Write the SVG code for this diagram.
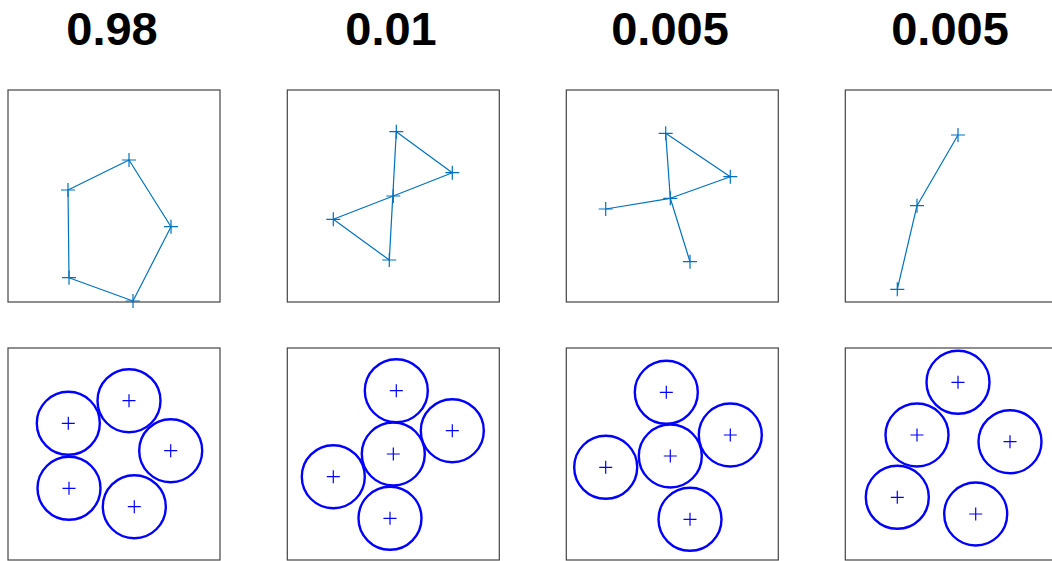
<svg xmlns="http://www.w3.org/2000/svg" xmlns:xlink="http://www.w3.org/1999/xlink" width="1052" height="561" viewBox="0 0 1052 561">
<style>
.title{font-family:"Liberation Sans",Arial,sans-serif;font-weight:bold;font-size:47px;fill:#000;text-anchor:middle}
.box{fill:#fff;stroke:#444;stroke-width:1.2}
.poly{fill:none;stroke:#0072BD;stroke-width:1.2;stroke-linejoin:round}
.pm{fill:none;stroke:#0072BD;stroke-width:1.2}
.circ{fill:none;stroke:#0000FF;stroke-width:2.4}
.cm{fill:none;stroke:#0000FF;stroke-width:1.2}
</style>
<defs>
<path id="p" d="M-7,0H7M0,-7V7"/>
<path id="q" d="M-6.5,0H6.5M0,-6.5V6.5"/>
</defs>
<rect width="1052" height="561" fill="#fff"/>
<g id="titles">
<text class="title" x="112" y="45">0.98</text>
<text class="title" x="391" y="45">0.01</text>
<text class="title" x="670" y="45">0.005</text>
<text class="title" x="950" y="45">0.005</text>
</g>
<g id="panel1-top">
<rect class="box" x="8" y="90" width="212" height="212"/>
<polygon class="poly" points="129,160 68,190 69,277.7 133,301 171,226.7"/>
<g class="pm"><use xlink:href="#p" x="129" y="160"/><use xlink:href="#p" x="68" y="190"/><use xlink:href="#p" x="69" y="277.7"/><use xlink:href="#p" x="133" y="301"/><use xlink:href="#p" x="171" y="226.7"/></g>
</g>
<g id="panel2-top">
<rect class="box" x="287.3" y="90" width="212" height="212"/>
<polygon class="poly" points="396.3,131.7 452.3,172.7 393.3,196 333.3,219.3 389.3,260"/>
<g class="pm"><use xlink:href="#p" x="396.3" y="131.7"/><use xlink:href="#p" x="452.3" y="172.7"/><use xlink:href="#p" x="393.3" y="196"/><use xlink:href="#p" x="333.3" y="219.3"/><use xlink:href="#p" x="389.3" y="260"/></g>
</g>
<g id="panel3-top">
<rect class="box" x="566.3" y="90" width="212" height="212"/>
<polyline class="poly" points="605.7,209 670.3,198.3 730.3,176.7 665.7,133.3 670.3,198.3 690,261.7"/>
<g class="pm"><use xlink:href="#p" x="665.7" y="133.3"/><use xlink:href="#p" x="730.3" y="176.7"/><use xlink:href="#p" x="670.3" y="198.3"/><use xlink:href="#p" x="605.7" y="209"/><use xlink:href="#p" x="690" y="261.7"/></g>
</g>
<g id="panel4-top">
<rect class="box" x="845.3" y="90" width="212" height="212"/>
<polyline class="poly" points="958,135 917,205.7 897.3,289.3"/>
<g class="pm"><use xlink:href="#p" x="958" y="135"/><use xlink:href="#p" x="917" y="205.7"/><use xlink:href="#p" x="897.3" y="289.3"/></g>
</g>
<g id="panel1-bottom">
<rect class="box" x="8" y="348" width="212" height="212"/>
<g class="circ"><circle cx="68.3" cy="423.3" r="31.5"/><circle cx="129" cy="400.7" r="31.5"/><circle cx="170.7" cy="450.7" r="31.5"/><circle cx="69" cy="488.3" r="31.5"/><circle cx="134.3" cy="506.7" r="31.5"/></g>
<g class="cm"><use xlink:href="#q" x="68.3" y="423.3"/><use xlink:href="#q" x="129" y="400.7"/><use xlink:href="#q" x="170.7" y="450.7"/><use xlink:href="#q" x="69" y="488.3"/><use xlink:href="#q" x="134.3" y="506.7"/></g>
</g>
<g id="panel2-bottom">
<rect class="box" x="287.3" y="348" width="212" height="212"/>
<g class="circ"><circle cx="396.3" cy="390.7" r="31.5"/><circle cx="452.3" cy="430.7" r="31.5"/><circle cx="393.3" cy="454" r="31.5"/><circle cx="333.3" cy="476.7" r="31.5"/><circle cx="390" cy="518.3" r="31.5"/></g>
<g class="cm"><use xlink:href="#q" x="396.3" y="390.7"/><use xlink:href="#q" x="452.3" y="430.7"/><use xlink:href="#q" x="393.3" y="454"/><use xlink:href="#q" x="333.3" y="476.7"/><use xlink:href="#q" x="390" y="518.3"/></g>
</g>
<g id="panel3-bottom">
<rect class="box" x="566.3" y="348" width="212" height="212"/>
<g class="circ"><circle cx="666.3" cy="392.3" r="31.5"/><circle cx="730.3" cy="435" r="31.5"/><circle cx="670.3" cy="456" r="31.5"/><circle cx="605.7" cy="467.3" r="31.5"/><circle cx="690" cy="519.3" r="31.5"/></g>
<g class="cm"><use xlink:href="#q" x="666.3" y="392.3"/><use xlink:href="#q" x="730.3" y="435"/><use xlink:href="#q" x="670.3" y="456"/><use xlink:href="#q" x="605.7" y="467.3"/><use xlink:href="#q" x="690" y="519.3"/></g>
</g>
<g id="panel4-bottom">
<rect class="box" x="845.3" y="348" width="212" height="212"/>
<g class="circ"><circle cx="958" cy="382.3" r="31.5"/><circle cx="917" cy="435" r="31.5"/><circle cx="1010" cy="441.7" r="31.5"/><circle cx="897.3" cy="497.3" r="31.5"/><circle cx="975.7" cy="514" r="31.5"/></g>
<g class="cm"><use xlink:href="#q" x="958" y="382.3"/><use xlink:href="#q" x="917" y="435"/><use xlink:href="#q" x="1010" y="441.7"/><use xlink:href="#q" x="897.3" y="497.3"/><use xlink:href="#q" x="975.7" y="514"/></g>
</g>
</svg>
